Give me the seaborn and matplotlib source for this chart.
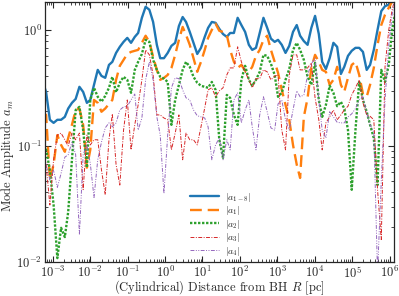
import numpy as np
import pandas as pd
import matplotlib
matplotlib.use("Agg")
import matplotlib.pyplot as plt
import seaborn as sns
from matplotlib.ticker import LogLocator, NullFormatter

LOG_R = [-3.27, -3.18, -3.08, -2.98, -2.88, -2.78, -2.68, -2.59, -2.49, -2.39, -2.29,
         -2.19, -2.09, -2.00, -1.90, -1.80, -1.70, -1.60, -1.50, -1.41, -1.31,
         -1.21, -1.11, -1.01, -0.91, -0.81, -0.72, -0.62, -0.52, -0.42, -0.32,
         -0.22, -0.13, -0.03, 0.07, 0.17, 0.27, 0.37, 0.47, 0.56, 0.66,
         0.76, 0.86, 0.96, 1.06, 1.15, 1.25, 1.35, 1.45, 1.55, 1.65,
         1.74, 1.84, 1.94, 2.04, 2.14, 2.24, 2.33, 2.43, 2.53, 2.63,
         2.73, 2.83, 2.93, 3.02, 3.12, 3.22, 3.32, 3.42, 3.52, 3.61,
         3.71, 3.81, 3.91, 4.01, 4.11, 4.20, 4.30, 4.40, 4.50, 4.60,
         4.70, 4.79, 4.89, 4.99, 5.09, 5.19, 5.29, 5.39, 5.48, 5.58,
         5.68, 5.78, 5.88, 5.98, 6.07, 6.17]

A_TOTAL = [0.36, 0.29, 0.168, 0.158, 0.168, 0.168, 0.178, 0.21, 0.235, 0.254, 0.323, 0.292,
           0.235, 0.249, 0.336, 0.452, 0.401, 0.386, 0.499, 0.53, 0.633, 0.714, 0.788, 0.853,
           0.773, 0.87, 0.94, 1.27, 1.58, 1.49, 1.17, 0.743, 0.57, 0.57, 0.633, 0.728, 0.773,
           1.08, 1.29, 1.17, 0.96, 0.773, 0.62, 0.70, 0.87, 1.04, 1.17, 1.15, 1.02, 0.92, 0.87,
           0.94, 0.94, 1.27, 1.10, 0.96, 0.743, 0.672, 0.70, 0.94, 1.27, 1.04, 0.84, 0.788,
           0.82, 0.743, 0.633, 0.728, 0.96, 1.10, 0.89, 0.80, 0.743, 1.04, 1.32, 0.92, 0.53,
           0.46, 0.57, 0.773, 0.714, 0.417, 0.48, 0.597, 0.66, 0.70, 0.70, 0.646, 0.452, 0.499,
           0.672, 1.0, 1.45, 1.6, 1.65, 1.8, 2.0]

A1 = [0.19, 0.185, 0.051, 0.069, 0.124, 0.102, 0.089, 0.117, 0.152, 0.204, 0.21, 0.152, 0.065,
      0.0925, 0.249, 0.235, 0.197, 0.21, 0.23, 0.249, 0.371, 0.49, 0.551, 0.62, 0.646, 0.66,
      0.672, 0.773, 0.89, 0.788, 0.585, 0.452, 0.371, 0.386, 0.409, 0.47, 0.609, 0.82, 1.06,
      0.905, 0.743, 0.57, 0.435, 0.53, 0.672, 0.853, 1.0, 1.13, 0.98, 0.96, 0.905, 0.672, 0.53,
      0.47, 0.499, 0.444, 0.435, 0.48, 0.597, 0.672, 0.82, 0.89, 0.672, 0.53, 0.426, 0.304,
      0.226, 0.168, 0.102, 0.069, 0.053, 0.178, 0.259, 0.47, 0.609, 0.53, 0.452, 0.435, 0.336,
      0.371, 0.48, 0.336, 0.293, 0.386, 0.499, 0.53, 0.409, 0.28, 0.265, 0.336, 0.47, 0.743,
      1.10, 1.35, 1.55, 1.75, 2.0]

A2 = [0.10,
      0.0925, 0.062, 0.031, 0.0108, 0.0197, 0.0164, 0.027, 0.076, 0.204, 0.217,
      0.137, 0.065, 0.249, 0.317, 0.265, 0.24, 0.27, 0.317, 0.394, 0.29,
      0.35, 0.394, 0.371, 0.287, 0.452, 0.53, 0.62, 0.82, 0.788, 0.551,
      0.452, 0.394, 0.38, 0.356, 0.152, 0.249, 0.336, 0.452, 0.53, 0.48,
      0.394, 0.35, 0.33, 0.323, 0.317, 0.356, 0.304, 0.113, 0.079, 0.275,
      0.259, 0.185, 0.152, 0.371, 0.49, 0.371, 0.33, 0.371, 0.435, 0.609,
      0.597, 0.51, 0.409, 0.265, 0.287, 0.371, 0.46, 0.672, 0.773, 0.672,
      0.551, 0.394, 0.336, 0.52, 0.249, 0.178, 0.226, 0.33, 0.287, 0.22,
      0.24, 0.21, 0.137, 0.0419, 0.137, 0.356, 0.249, 0.197, 0.152, 0.117,
      0.046, 0.452, 0.356, 0.499, 1.0,
      1.5]

A3 = [0.11,
      0.069, 0.031, 0.076, 0.124, 0.129, 0.113, 0.1, 0.129, 0.113, 0.129,
      0.042, 0.124, 0.102, 0.113, 0.113, 0.062, 0.038, 0.113, 0.189, 0.069,
      0.046, 0.137, 0.249, 0.0925, 0.152, 0.226, 0.371, 0.672, 0.609, 0.409,
      0.185, 0.185, 0.174, 0.168, 0.0925, 0.129, 0.185, 0.076, 0.129, 0.113,
      0.113, 0.102, 0.146, 0.213, 0.304, 0.317, 0.265, 0.298, 0.317, 0.409,
      0.47, 0.47, 0.714, 0.53, 0.435, 0.371, 0.317, 0.38, 0.38, 0.452,
      0.435, 0.371, 0.40, 0.409, 0.137, 0.0925, 0.409, 0.609, 0.609, 0.452,
      0.452, 0.47, 0.52, 0.26, 0.168, 0.0925, 0.158, 0.178, 0.204, 0.168,
      0.185, 0.204, 0.22, 0.275, 0.317, 0.371, 0.235, 0.185, 0.18, 0.168,
      0.042, 0.0156, 0.48, 1.0, 1.49,
      2.0]

A4 = [0.08,
      0.069, 0.051, 0.062, 0.044, 0.058, 0.08, 0.084, 0.108, 0.084, 0.0172,
      0.084, 0.102, 0.071, 0.036, 0.076, 0.108, 0.143, 0.158, 0.146, 0.158,
      0.204, 0.217, 0.22, 0.249, 0.28, 0.137, 0.174, 0.371, 0.53, 0.371,
      0.178, 0.124, 0.039, 0.124, 0.317, 0.386, 0.38, 0.304, 0.26, 0.249,
      0.204, 0.182, 0.178, 0.174, 0.146, 0.076, 0.102, 0.117, 0.076, 0.113,
      0.0925, 0.249, 0.287, 0.158, 0.204, 0.249, 0.146, 0.0925, 0.185, 0.265,
      0.197, 0.143, 0.137, 0.23, 0.249, 0.168, 0.137, 0.204, 0.298, 0.265,
      0.275, 0.409, 0.51, 0.57, 0.249, 0.137, 0.117, 0.197, 0.178, 0.16,
      0.158, 0.158, 0.178, 0.189, 0.21, 0.249, 0.265, 0.193, 0.152, 0.133,
      0.008, 0.05, 0.249, 0.743, 1.35,
      2.0]

LABELS = [r"$|a_{1-8}|$", r"$|a_1|$", r"$|a_2|$", r"$|a_3|$", r"$|a_4|$"]

sns.set_style("ticks")
plt.rcParams.update({
    "font.family": ["serif"],
    "font.serif": ["cmr10", "DejaVu Serif"],
    "mathtext.fontset": "cm",
    "axes.formatter.use_mathtext": True,
    "axes.unicode_minus": False,
    "xtick.direction": "in",
    "ytick.direction": "in",
    "xtick.top": True,
    "ytick.right": True,
})

R = 10.0 ** np.array(LOG_R)
series = [A_TOTAL, A1, A2, A3, A4]
for s in series:
    assert len(s) == len(R), len(s)

colors = ["#1f77b4", "#ff7f0e", "#2ca02c", "#d62728", "#9467bd"]
styles = [
    dict(linestyle="-", linewidth=1.7),
    dict(linestyle=(0, (5, 2.5)), linewidth=1.7),
    dict(linestyle=(0, (1, 0.7)), linewidth=1.7),
    dict(linestyle=(0, (4, 1.5, 1, 1.5)), linewidth=0.7),
    dict(linestyle=(0, (4, 1.5, 1, 1.5, 1, 1.5)), linewidth=0.7),
]

fig = plt.figure(figsize=(3.99, 2.96), dpi=100)
ax = fig.add_axes([45 / 399, 34 / 296, 349 / 399, 260 / 296])

for vals, lab, col, st in zip(series, LABELS, colors, styles):
    df = pd.DataFrame({"R": R, "a": vals})
    sns.lineplot(data=df, x="R", y="a", ax=ax, color=col, label=lab, **st)

ax.set_xscale("log")
ax.set_yscale("log")
ax.set_xlim(10 ** -3.21, 10 ** 6.12)
ax.set_ylim(0.01, 10 ** 0.24)

ax.xaxis.set_major_locator(LogLocator(base=10, numticks=20))
ax.xaxis.set_minor_locator(LogLocator(base=10, subs=np.arange(2, 10), numticks=100))
ax.xaxis.set_minor_formatter(NullFormatter())
ax.yaxis.set_minor_locator(LogLocator(base=10, subs=np.arange(2, 10), numticks=100))
ax.yaxis.set_minor_formatter(NullFormatter())
ax.tick_params(which="major", length=4.5, width=0.8, labelsize=9, pad=2.0)
ax.tick_params(which="minor", length=2.2, width=0.6)
for sp in ax.spines.values():
    sp.set_linewidth(0.9)

ax.set_xlabel(r"(Cylindrical) Distance from BH $R$ [pc]", fontsize=9)
ax.set_ylabel(r"Mode Amplitude $a_m$", fontsize=9)
ax.xaxis.set_label_coords(0.5, -0.063)
ax.yaxis.set_label_coords(-0.083, 0.41)

leg = ax.legend(loc="lower left", bbox_to_anchor=((190 - 45) / 349, 0.017), frameon=False,
                fontsize=7, handlelength=3.0, handletextpad=0.55, labelspacing=0.05,
                borderpad=0.0, borderaxespad=0.0)

fig.savefig("out.png", dpi=100)
